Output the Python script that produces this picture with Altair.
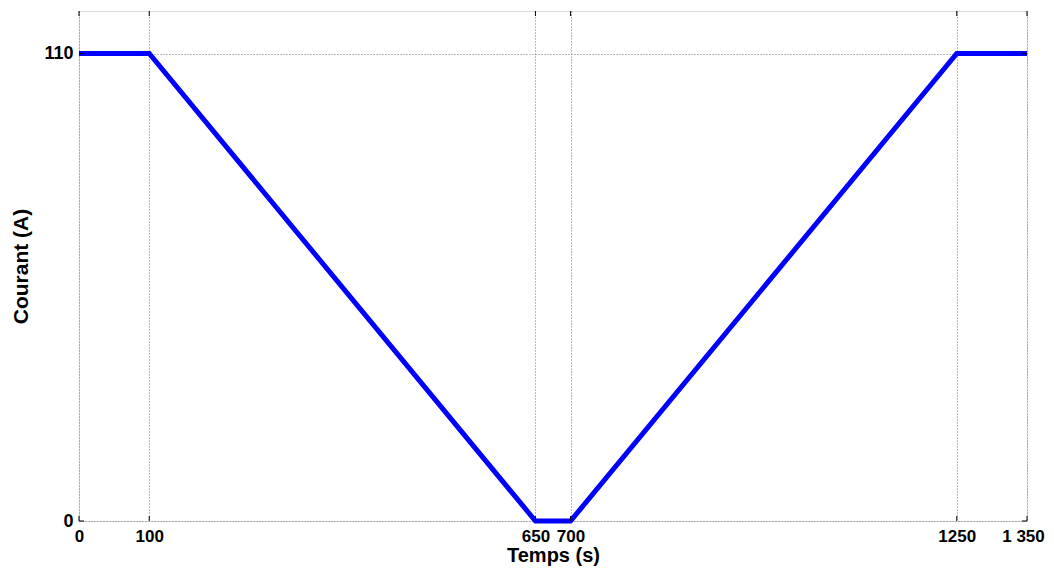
import altair as alt
import pandas as pd

temps = [0, 100, 650, 700, 1250, 1350]
courant = [110, 110, 0, 0, 110, 110]
x_ticks = [0, 100, 650, 700, 1250, 1350]
y_ticks = [0, 110]

df = pd.DataFrame({"t": temps, "i": courant})
xt = pd.DataFrame({"t": x_ticks})
yt = pd.DataFrame({"i": y_ticks})

FONT = "Liberation Sans"

x_scale = alt.Scale(domain=[0, 1350], nice=False, zero=False)
y_scale = alt.Scale(domain=[0, 120], nice=False)

line = alt.Chart(df).mark_line(color="#0000ff", strokeWidth=5, strokeJoin="miter").encode(
    x=alt.X("t:Q", scale=x_scale, title="Temps (s)",
            axis=alt.Axis(values=x_ticks, grid=True, gridDash=[1, 2], gridColor="#777777",
                          gridWidth=1, tickSize=0, labelPadding=7, domain=False,
                          labelFlush=False, labelOverlap=False,
                          labelOffset={"condition": {"test": "datum.value == 1350", "value": -4}, "value": 0},
                          labelExpr="datum.value == 1350 ? '1 350' : datum.label",
                          labelFont=FONT, labelFontSize=17, labelFontWeight="bold", labelColor="black",
                          titleFont=FONT, titleFontSize=20, titleFontWeight="bold", titleColor="black",
                          titlePadding=1, format="d")),
    y=alt.Y("i:Q", scale=y_scale, title="Courant (A)",
            axis=alt.Axis(values=y_ticks, grid=True, gridDash=[1, 2], gridColor="#777777",
                          gridWidth=1, tickSize=0, labelPadding=6, domain=False,
                          labelFlush=False,
                          labelFont=FONT, labelFontSize=18, labelFontWeight="bold", labelColor="black",
                          titleFont=FONT, titleFontSize=21, titleFontWeight="bold", titleColor="black",
                          titlePadding=12)),
)

tick_bottom = alt.Chart(xt).mark_rule(color="black", strokeWidth=1).encode(
    x=alt.X("t:Q", scale=x_scale), y=alt.value(510), y2=alt.value(505))
tick_top = alt.Chart(xt).mark_rule(color="black", strokeWidth=1).encode(
    x=alt.X("t:Q", scale=x_scale), y=alt.value(0), y2=alt.value(5))
tick_left = alt.Chart(yt).mark_rule(color="black", strokeWidth=1).encode(
    y=alt.Y("i:Q", scale=y_scale), x=alt.value(0), x2=alt.value(5))
tick_right = alt.Chart(yt).mark_rule(color="black", strokeWidth=1).encode(
    y=alt.Y("i:Q", scale=y_scale), x=alt.value(948), x2=alt.value(943))

chart = alt.layer(line, tick_bottom, tick_top, tick_left, tick_right).properties(
    width=948, height=510,
    autosize=alt.AutoSizeParams(type="none"),
    padding={"left": 71, "top": 3, "right": 19, "bottom": 45},
).configure_view(stroke="black", strokeWidth=1.5).configure(background="white")

chart.save("out.html", embed_options={"renderer": "svg", "actions": False})
